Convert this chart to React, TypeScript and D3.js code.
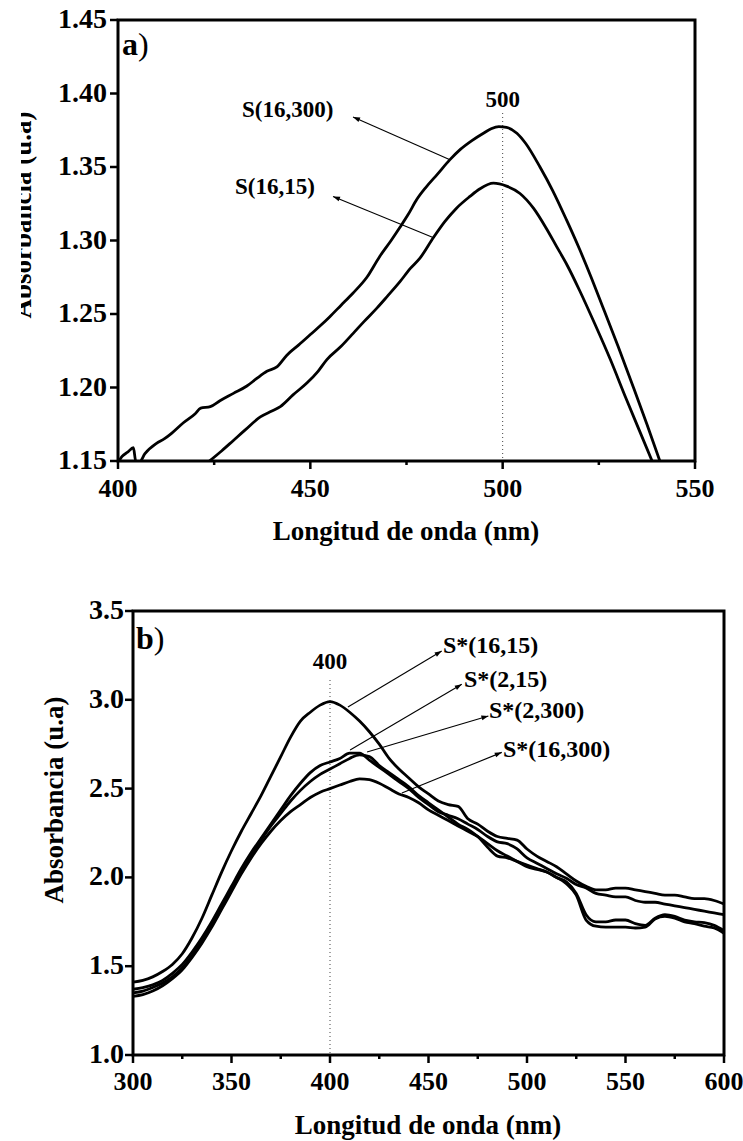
import React from "react";
import * as d3 from "d3";

// ---------- Panel a data ----------
const s16_300: [number, number][] = [
  [400, 1.149], [401, 1.153], [402.5, 1.156], [404, 1.159], [404.6, 1.15], [405.5, 1.149],
  [407, 1.155], [410, 1.162], [412, 1.165], [414, 1.169], [417, 1.176], [420, 1.182],
  [421.5, 1.186], [424, 1.187], [426.5, 1.191], [430, 1.196], [433.5, 1.201], [436, 1.206],
  [438.7, 1.211], [441.3, 1.214], [443.9, 1.222], [447, 1.229], [450, 1.236], [453, 1.243],
  [455, 1.248], [458, 1.256], [461, 1.264], [464.7, 1.275], [468, 1.289], [471, 1.3],
  [473.3, 1.309], [475.5, 1.318], [477.7, 1.328], [480, 1.336], [483, 1.345], [486.3, 1.355],
  [489, 1.362], [492, 1.368], [495, 1.373], [497, 1.376], [499, 1.3775], [501, 1.377],
  [503.7, 1.373], [506, 1.366], [509.7, 1.35], [513, 1.334], [516.6, 1.314], [520, 1.294],
  [523, 1.275], [526, 1.255], [530, 1.228], [534, 1.2], [537.5, 1.175], [541, 1.149],
];
const s16_15: [number, number][] = [
  [423.3, 1.149], [427, 1.157], [430, 1.164], [433, 1.171], [437, 1.18], [440, 1.184],
  [442.2, 1.187], [445.5, 1.195], [449.1, 1.203], [452, 1.211], [454.3, 1.219], [458, 1.228],
  [461.2, 1.237], [464, 1.245], [467.3, 1.254], [470, 1.262], [473.3, 1.272], [476, 1.281],
  [478.5, 1.288], [482, 1.302], [485, 1.313], [488, 1.322], [491.5, 1.33], [494, 1.335],
  [497.6, 1.339], [501, 1.337], [504.5, 1.332], [508, 1.322], [511.4, 1.308], [514, 1.296],
  [516.6, 1.284], [520, 1.266], [524, 1.243], [528, 1.219], [532, 1.193], [535.5, 1.171],
  [539, 1.149],
];
const topXTicks = [400, 450, 500, 550];
const topXMinor = [425, 475, 525];
const topYTicks = [1.15, 1.2, 1.25, 1.3, 1.35, 1.4, 1.45];
const topAnnotations = [
  { label: "S(16,300)", from: [486.3, 1.355], to: [461.1, 1.384], text: [242, 117] },
  { label: "S(16,15)", from: [481.9, 1.302], to: [455.9, 1.33], text: [235, 194] },
];

// ---------- Panel b data ----------
const botWl = [
  300, 305, 310, 315, 320, 325, 330, 335, 340, 345, 350, 355, 360, 365, 370, 375, 380, 385, 390, 395,
  400, 405, 410, 415, 420, 425, 430, 435, 440, 445, 450, 455, 460, 465, 470, 475, 480, 485, 490, 495,
  500, 505, 510, 515, 520, 525, 530, 535, 540, 545, 550, 555, 560, 565, 570, 575, 580, 585, 590, 595, 600,
];
const sStar16_15 = [
  1.41, 1.42, 1.44, 1.47, 1.51, 1.57, 1.66, 1.77, 1.9, 2.03, 2.15, 2.26, 2.36, 2.46, 2.57, 2.68, 2.79, 2.88, 2.93, 2.97,
  2.99, 2.97, 2.93, 2.88, 2.82, 2.75, 2.67, 2.61, 2.56, 2.51, 2.47, 2.43, 2.41, 2.4, 2.33, 2.3, 2.26, 2.23, 2.22, 2.21,
  2.16, 2.12, 2.09, 2.06, 2.02, 1.98, 1.95, 1.93, 1.93, 1.94, 1.94, 1.93, 1.92, 1.91, 1.9, 1.9, 1.89, 1.88, 1.88, 1.87, 1.85,
];
const sStar2_15 = [
  1.37, 1.38, 1.395, 1.42, 1.46, 1.51, 1.58, 1.66, 1.75, 1.85, 1.95, 2.05, 2.14, 2.22, 2.3, 2.38, 2.46, 2.53, 2.59, 2.63,
  2.65, 2.67, 2.7, 2.7, 2.66, 2.62, 2.58, 2.54, 2.5, 2.45, 2.41, 2.37, 2.35, 2.33, 2.3, 2.27, 2.23, 2.2, 2.19, 2.16,
  2.11, 2.08, 2.05, 2.02, 1.995, 1.96, 1.94, 1.91, 1.9, 1.89, 1.89, 1.87, 1.86, 1.86, 1.85, 1.84, 1.83, 1.82, 1.81, 1.8, 1.79,
];
const sStar2_300 = [
  1.35, 1.36, 1.38, 1.405, 1.44, 1.49, 1.56, 1.64, 1.73, 1.83, 1.93, 2.03, 2.12, 2.21, 2.29, 2.36, 2.43, 2.49, 2.54, 2.58,
  2.61, 2.64, 2.67, 2.69, 2.68, 2.63, 2.59, 2.55, 2.51, 2.46, 2.42, 2.38, 2.34, 2.3, 2.27, 2.23, 2.17, 2.12, 2.11, 2.09,
  2.07, 2.05, 2.03, 2.0, 1.975, 1.91, 1.79, 1.75, 1.75, 1.76, 1.76, 1.74, 1.73, 1.77, 1.79, 1.78, 1.76, 1.75, 1.745, 1.73, 1.7,
];
const sStar16_300 = [
  1.33, 1.34, 1.36, 1.39, 1.43, 1.48, 1.55, 1.63, 1.72, 1.82, 1.92, 2.02, 2.11, 2.19, 2.26, 2.32, 2.37, 2.41, 2.45, 2.48,
  2.5, 2.52, 2.54, 2.555, 2.55, 2.53, 2.5, 2.47, 2.45, 2.42, 2.38, 2.35, 2.32, 2.29, 2.26, 2.23, 2.19, 2.15, 2.12, 2.09,
  2.06, 2.045, 2.03, 2.0, 1.965, 1.9, 1.76, 1.725, 1.72, 1.72, 1.72, 1.715, 1.72, 1.765, 1.78, 1.77, 1.75, 1.74, 1.725, 1.715, 1.685,
];
const botSeries = [sStar16_15, sStar2_15, sStar2_300, sStar16_300];
const botXTicks = [300, 350, 400, 450, 500, 550, 600];
const botXMinor = [325, 375, 425, 475, 525, 575];
const botYTicks = [1.0, 1.5, 2.0, 2.5, 3.0, 3.5];
const botAnnotations = [
  { label: "S*(16,15)", from: [409.1, 2.959], to: [456.7, 3.275], text: [443, 653] },
  { label: "S*(2,15)", from: [410.2, 2.717], to: [466.9, 3.087], text: [464, 687] },
  { label: "S*(2,300)", from: [418.8, 2.706], to: [480.4, 2.909], text: [489, 718] },
  { label: "S*(16,300)", from: [436.5, 2.475], to: [487.2, 2.704], text: [503, 757] },
];

const FONT = "'Liberation Serif', 'Times New Roman', serif";

export default function App() {
  const tx = d3.scaleLinear().domain([400, 550]).range([118, 695]);
  const ty = d3.scaleLinear().domain([1.15, 1.45]).range([461, 20]);
  const bx = d3.scaleLinear().domain([300, 600]).range([133, 724]);
  const by = d3.scaleLinear().domain([1.0, 3.5]).range([1055, 611]);

  const topLine = d3
    .line<[number, number]>()
    .x((d) => tx(d[0]))
    .y((d) => ty(d[1]))
    .curve(d3.curveMonotoneX);
  const botLine = d3
    .line<number>()
    .x((_, i) => bx(botWl[i]))
    .y((d) => by(d))
    .curve(d3.curveMonotoneX);

  const fmt2 = d3.format(".2f");
  const fmt1 = d3.format(".1f");

  const tick = { stroke: "#000", strokeWidth: 2.5 };
  const txt = { fontFamily: FONT, fontWeight: 700, fill: "#000" } as const;

  return (
    <svg
      width={743}
      height={1141}
      style={{ position: "absolute", left: 0, top: 0, background: "#fff" }}
    >
      <defs>
        <marker id="arr" viewBox="0 0 10 10" refX="10" refY="5" markerWidth="9" markerHeight="7" orient="auto" markerUnits="userSpaceOnUse">
          <path d="M0,1.5 L10,5 L0,8.5 z" fill="#000" />
        </marker>
        <clipPath id="clipTop">
          <rect x={118} y={20} width={577} height={441} />
        </clipPath>
        <clipPath id="clipBot">
          <rect x={133} y={611} width={591} height={444} />
        </clipPath>
        <clipPath id="clipLbl">
          <rect x={21} y={0} width={200} height={600} />
        </clipPath>
      </defs>
      <rect width={743} height={1141} fill="#fff" />

      {/* ===== Panel a ===== */}
      <line x1={tx(500)} x2={tx(500)} y1={113} y2={ty(1.15)} stroke="#444" strokeWidth={1} strokeDasharray="1,3" />
      <g clipPath="url(#clipTop)">
        {[s16_300, s16_15].map((s, i) => (
          <path key={i} d={topLine(s) || ""} fill="none" stroke="#000" strokeWidth={2.8} strokeLinejoin="round" />
        ))}
      </g>
      <rect x={118} y={20} width={577} height={441} fill="none" stroke="#000" strokeWidth={3} />
      {topXTicks.map((t) => (
        <g key={t}>
          <line x1={tx(t)} x2={tx(t)} y1={461} y2={469} {...tick} />
          <text x={tx(t)} y={497} textAnchor="middle" fontSize={26} {...txt}>{t}</text>
        </g>
      ))}
      {topXMinor.map((t) => (
        <line key={t} x1={tx(t)} x2={tx(t)} y1={461} y2={465} {...tick} />
      ))}
      {topYTicks.map((t) => (
        <g key={t}>
          <line x1={110} x2={118} y1={ty(t)} y2={ty(t)} {...tick} />
          <text x={107} y={ty(t) + 8} textAnchor="end" fontSize={28} {...txt}>{fmt2(t)}</text>
        </g>
      ))}
      <text x={406} y={540} textAnchor="middle" fontSize={27} {...txt}>Longitud de onda (nm)</text>
      <g clipPath="url(#clipLbl)">
        <text transform="translate(31,215) rotate(-90)" textAnchor="middle" fontSize={27} {...txt}>Absorbancia (u.a)</text>
      </g>
      <text x={122} y={55} fontSize={32} {...txt}>a<tspan fontWeight={400}>)</tspan></text>
      <text x={tx(500)} y={107} textAnchor="middle" fontSize={23} {...txt}>500</text>
      {topAnnotations.map((a) => (
        <g key={a.label}>
          <line x1={tx(a.from[0])} y1={ty(a.from[1])} x2={tx(a.to[0])} y2={ty(a.to[1])} stroke="#000" strokeWidth={1.1} markerEnd="url(#arr)" />
          <text x={a.text[0]} y={a.text[1]} fontSize={23} {...txt}>{a.label}</text>
        </g>
      ))}

      {/* ===== Panel b ===== */}
      <line x1={bx(400)} x2={bx(400)} y1={680} y2={1053} stroke="#444" strokeWidth={1} strokeDasharray="1,3" />
      <g clipPath="url(#clipBot)">
        {botSeries.map((s, i) => (
          <path key={i} d={botLine(s) || ""} fill="none" stroke="#000" strokeWidth={2.8} strokeLinejoin="round" />
        ))}
      </g>
      <rect x={133} y={611} width={591} height={444} fill="none" stroke="#000" strokeWidth={3} />
      {botXTicks.map((t) => (
        <g key={t}>
          <line x1={bx(t)} x2={bx(t)} y1={1055} y2={1063} {...tick} />
          <text x={bx(t)} y={1090} textAnchor="middle" fontSize={26} {...txt}>{t}</text>
        </g>
      ))}
      {botXMinor.map((t) => (
        <line key={t} x1={bx(t)} x2={bx(t)} y1={1055} y2={1059} {...tick} />
      ))}
      {botYTicks.map((t) => (
        <g key={t}>
          <line x1={125} x2={133} y1={by(t)} y2={by(t)} {...tick} />
          <text x={124} y={by(t) + 8} textAnchor="end" fontSize={28} {...txt}>{fmt1(t)}</text>
        </g>
      ))}
      <text x={428} y={1134} textAnchor="middle" fontSize={27} {...txt}>Longitud de onda (nm)</text>
      <text transform="translate(63,800) rotate(-90)" textAnchor="middle" fontSize={27} {...txt}>Absorbancia (u.a)</text>
      <text x={136} y={649} fontSize={32} {...txt}>b<tspan fontWeight={400}>)</tspan></text>
      <text x={bx(400)} y={669} textAnchor="middle" fontSize={23} {...txt}>400</text>
      {botAnnotations.map((a) => (
        <g key={a.label}>
          <line x1={bx(a.from[0])} y1={by(a.from[1])} x2={bx(a.to[0])} y2={by(a.to[1])} stroke="#000" strokeWidth={1.1} markerEnd="url(#arr)" />
          <text x={a.text[0]} y={a.text[1]} fontSize={24} {...txt}>{a.label}</text>
        </g>
      ))}
    </svg>
  );
}
